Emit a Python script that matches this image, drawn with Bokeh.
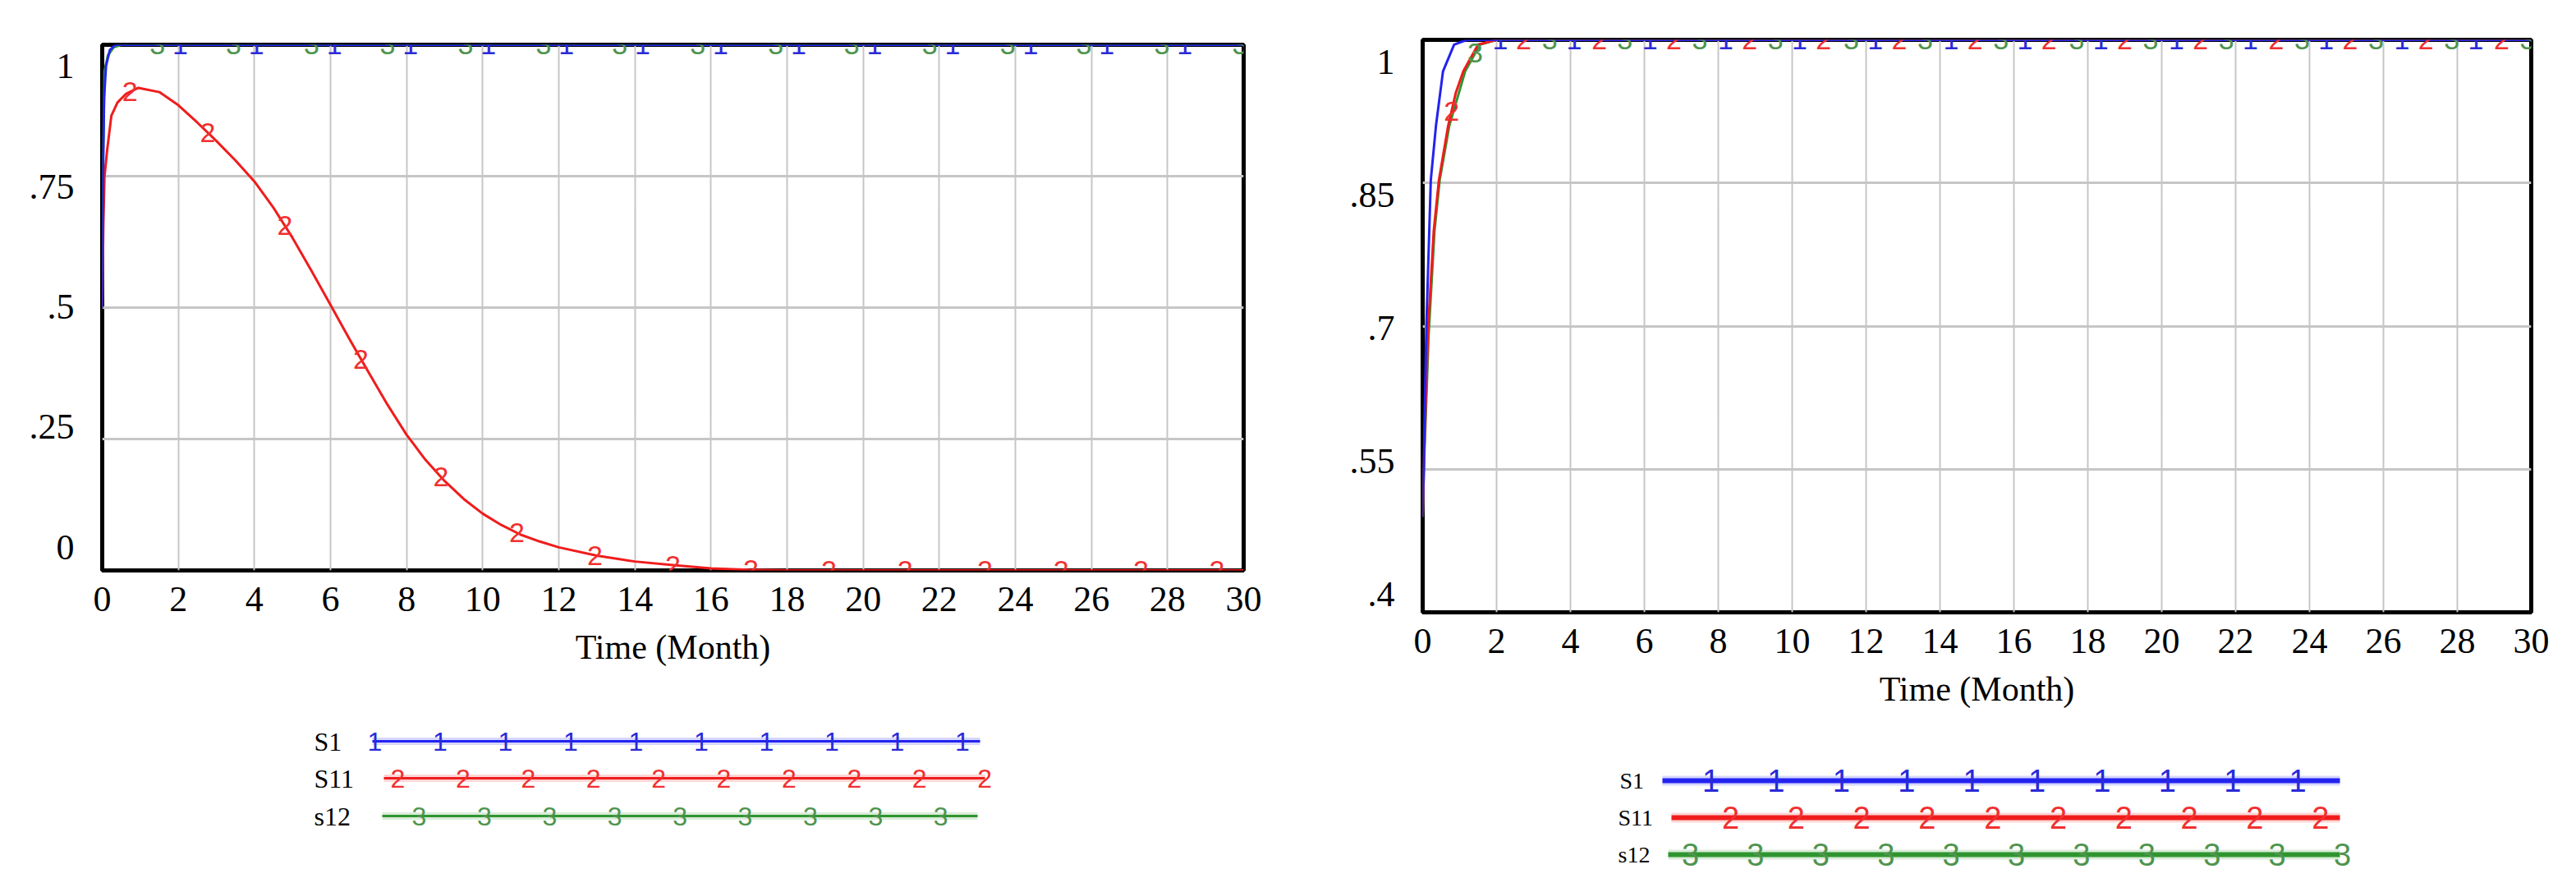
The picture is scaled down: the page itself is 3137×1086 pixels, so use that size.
import numpy as np
from bokeh.plotting import figure
from bokeh.models import (Range1d, LinearAxis, FixedTicker, CustomJSTickFormatter,
                          ColumnDataSource, LabelSet)
from bokeh.layouts import row, column
from bokeh.embed import file_html
from bokeh.resources import INLINE
from bokeh.core.properties import value

# ---------------- data ----------------
x_ticks = list(range(0, 31, 2))
left_y_ticks = [0, 0.25, 0.5, 0.75, 1]
right_y_ticks = [0.4, 0.55, 0.7, 0.85, 1]
series_names = ["S1", "S11", "s12"]
marker_texts = ["1", "2", "3"]

# Left chart
left_s1_t = [0, 0.02, 0.05, 0.1, 0.2, 0.35, 30]
left_s1_v = [0.5, 0.75, 0.9, 0.96, 0.99, 1.0, 1.0]
left_s11_t = [0, 0.03, 0.06, 0.13, 0.24, 0.4, 0.63, 0.95, 1.5, 2, 2.5, 3, 3.5, 4, 4.5,
              5, 5.5, 6, 6.5, 7, 7.5, 8, 8.5, 9, 9.5, 10, 10.5, 11, 11.5, 12, 13, 14,
              15, 16, 17, 18, 30]
left_s11_v = [0.5, 0.66, 0.75, 0.8, 0.865, 0.89, 0.907, 0.918, 0.91, 0.885, 0.852,
              0.817, 0.78, 0.74, 0.69, 0.633, 0.57, 0.505, 0.44, 0.377, 0.315, 0.258,
              0.21, 0.17, 0.136, 0.108, 0.086, 0.068, 0.055, 0.044, 0.028, 0.017,
              0.01, 0.004, 0.001, 0.0, 0.0]
left_s12_t = [0, 0.02, 0.06, 0.15, 0.3, 0.5, 30]
left_s12_v = [0.5, 0.78, 0.95, 0.98, 0.995, 1.0, 1.0]
left_s1_marks = [2.05, 4.05, 6.1, 8.1, 10.15, 12.2, 14.2, 16.25, 18.3, 20.3, 22.35,
                 24.4, 26.4, 28.45]
left_s11_marks = [0.73, 2.77, 4.8, 6.8, 8.9, 10.9, 12.95, 15.0, 17.05, 19.1, 21.1,
                  23.2, 25.2, 27.3, 29.3]
left_s12_marks = [1.45, 3.45, 5.5, 7.5, 9.55, 11.6, 13.6, 15.65, 17.7, 19.7, 21.75,
                  23.8, 25.8, 27.85, 29.9]

# Right chart
right_s1_t = [0, 0.03, 0.1, 0.22, 0.36, 0.55, 0.85, 1.2, 30]
right_s1_v = [0.5, 0.56, 0.7, 0.853, 0.91, 0.967, 0.995, 1.0, 1.0]
right_s11_t = [0, 0.05, 0.15, 0.3, 0.44, 0.69, 0.9, 1.1, 1.5, 2, 30]
right_s11_v = [0.5, 0.58, 0.7, 0.8, 0.853, 0.91, 0.945, 0.967, 0.995, 1.0, 1.0]
right_s12_t = [0, 0.05, 0.16, 0.32, 0.46, 0.72, 1.15, 1.55, 2, 30]
right_s12_v = [0.5, 0.57, 0.69, 0.8, 0.853, 0.91, 0.967, 0.995, 1.0, 1.0]
right_s1_marks = [2.1, 4.1, 6.15, 8.2, 10.2, 12.25, 14.3, 16.3, 18.35, 20.4, 22.4,
                  24.45, 26.5, 28.5]
right_s11_marks = [0.78, 2.73, 4.78, 6.8, 8.85, 10.85, 12.9, 14.95, 16.95, 19.0, 21.05,
                   23.1, 25.1, 27.15, 29.2]
right_s12_marks = [1.42, 3.44, 5.47, 7.5, 9.55, 11.6, 13.6, 15.65, 17.7, 19.7, 21.75,
                   23.8, 25.8, 27.85, 29.9]

# ---------------- styles ----------------
COL = {"S1": "#2323f0", "S11": "#f01c1c", "s12": "#2f952f"}
MARK_COL = {"S1": "#2a2ad8", "S11": "#f03030", "s12": "#4f944f"}
SERIF = "Liberation Serif"
SANS = "Liberation Sans"
GRID = "#c6c6c6"

fmt = CustomJSTickFormatter(code="""
if (tick >= 0.999) return '1';
if (Math.abs(tick) < 1e-9) return '0';
let s = tick.toFixed(2).replace(/^0/, '');
if (s.endsWith('0')) s = s.slice(0, -1);
return s;
""")


def main_fig(fw, fh, bl, br, bt, bb, y0, y1, lab_s, lab_e, yticks, data):
    p = figure(frame_width=fw, frame_height=fh, x_range=Range1d(0, 30),
               y_range=Range1d(y0, y1), output_backend="svg", toolbar_location=None,
               y_axis_location=None, min_border_left=bl, min_border_right=br,
               min_border_top=bt, min_border_bottom=bb)
    p.background_fill_color = "white"
    p.border_fill_color = "white"
    p.outline_line_color = "black"
    p.outline_line_width = 5
    p.extra_y_ranges = {"lab": Range1d(lab_s, lab_e)}
    yax = LinearAxis(y_range_name="lab", ticker=FixedTicker(ticks=yticks), formatter=fmt)
    yax.axis_line_color = None
    yax.major_tick_line_color = None
    yax.minor_tick_line_color = None
    yax.major_tick_out = 0
    yax.major_label_standoff = 34
    yax.major_label_text_font = SERIF
    yax.major_label_text_font_size = "44px"
    yax.major_label_text_color = "black"
    p.add_layout(yax, "left")

    xa = p.xaxis[0]
    xa.ticker = FixedTicker(ticks=x_ticks)
    xa.axis_line_color = None
    xa.major_tick_line_color = None
    xa.minor_tick_line_color = None
    xa.major_tick_out = 0
    xa.major_label_standoff = 20
    xa.major_label_text_font = SERIF
    xa.major_label_text_font_size = "44px"
    xa.major_label_text_color = "black"
    xa.axis_label = "Time (Month)"
    xa.axis_label_text_font = SERIF
    xa.axis_label_text_font_size = "42px"
    xa.axis_label_text_font_style = "normal"
    xa.axis_label_text_color = "black"
    xa.axis_label_standoff = 18

    p.xgrid.ticker = FixedTicker(ticks=x_ticks)
    p.ygrid.ticker = FixedTicker(ticks=yticks)
    p.xgrid.grid_line_color = GRID
    p.xgrid.grid_line_width = 2
    p.ygrid.grid_line_color = GRID
    p.ygrid.grid_line_width = 3

    for name in ["s12", "S11", "S1"]:
        t, v, _ = data[name]
        p.line(t, v, line_color=COL[name], line_width=3, line_join="round")
    for name, mtxt in zip(series_names, marker_texts):
        t, v, marks = data[name]
        src = ColumnDataSource(dict(x=marks, y=np.interp(marks, t, v),
                                    text=[mtxt] * len(marks)))
        p.add_layout(LabelSet(x="x", y="y", text="text", source=src,
                              text_align="center", text_baseline="middle",
                              text_color=MARK_COL[name], text_font=value(SANS),
                              text_font_size="34px"))
    return p


def legend_fig(width, fx0, fx1, y0, y1, rows, lw, mfs, lfs):
    # the frame of this figure is aligned (by the column layout) with the
    # frame of the chart above it, so its x range spans the same pixels
    lf = figure(width=width, height=y1 - y0, x_range=Range1d(fx0, fx1),
                y_range=Range1d(y1, y0), output_backend="svg", toolbar_location=None,
                x_axis_location=None, y_axis_location=None, min_border=0)
    lf.outline_line_color = None
    lf.grid.visible = False
    lf.background_fill_color = "white"
    lf.border_fill_color = "white"
    for (name, mtxt, ly, lx, ls, le, m0, mstep, mn) in rows:
        lf.line([ls, le], [ly, ly], line_color=COL[name], line_width=lw + 6, line_alpha=0.18)
        lf.line([ls, le], [ly, ly], line_color=COL[name], line_width=lw)
        mx = [m0 + mstep * k for k in range(mn)]
        lf.text(mx, [ly] * mn, text=[mtxt] * mn, text_align="center",
                text_baseline="middle", text_color=MARK_COL[name],
                text_font=value(SANS), text_font_size=mfs)
        lf.text([lx], [ly], text=[name], text_align="left", text_baseline="middle",
                text_color="black", text_font=value(SERIF), text_font_size=lfs)
    return lf


left_data = {"S1": (left_s1_t, left_s1_v, left_s1_marks),
             "S11": (left_s11_t, left_s11_v, left_s11_marks),
             "s12": (left_s12_t, left_s12_v, left_s12_marks)}
right_data = {"S1": (right_s1_t, right_s1_v, right_s1_marks),
              "S11": (right_s11_t, right_s11_v, right_s11_marks),
              "s12": (right_s12_t, right_s12_v, right_s12_marks)}

# frames: left 124..1514 x 54..694 ; right 1732..3082 x 48..745 (page pixels)
left_main = main_fig(1390, 640, 124, 106, 54, 156, 0, 1, -0.0478, 1.0444,
                     left_y_ticks, left_data)
right_main = main_fig(1350, 697, 112, 47, 48, 135, 0.4, 1, 0.3796, 1.025,
                      right_y_ticks, right_data)

left_rows = [
    ("S1", "1", 902, 382, 453, 1193, 456, 79.5, 10),
    ("S11", "2", 947, 382, 467, 1199, 484, 79.4, 10),
    ("s12", "3", 993, 382, 465, 1190, 510, 79.4, 9),
]
right_rows = [
    ("S1", "1", 950, 1972, 2024, 2849, 2083, 79.4, 10),
    ("S11", "2", 995, 1970, 2035, 2849, 2107, 79.8, 10),
    ("s12", "3", 1040, 1970, 2031, 2849, 2058, 79.4, 11),
]
left_leg = legend_fig(1620, 124, 1514, 850, 1078, left_rows, 3, "32px", "32px")
right_leg = legend_fig(1509, 1732, 3082, 880, 1078, right_rows, 6, "38px", "28px")

layout = row(column(left_main, left_leg), column(right_main, right_leg))

open("out.html", "w").write(file_html(layout, INLINE))
